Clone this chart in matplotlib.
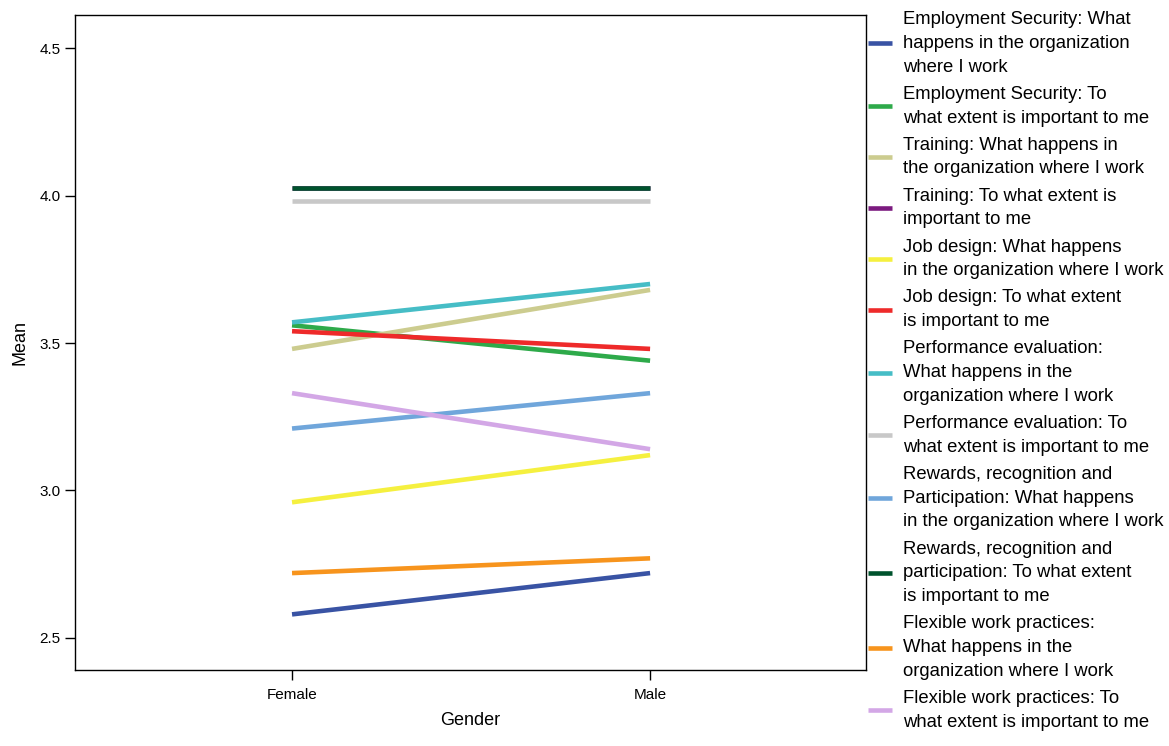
import matplotlib
matplotlib.use('Agg')
import matplotlib.pyplot as plt

plt.rcParams['font.family'] = ['Liberation Sans', 'DejaVu Sans']

# data
genders = ['Female', 'Male']
labels = [
    'Employment Security: What\nhappens in the organization\nwhere I work',
    'Employment Security: To\nwhat extent is important to me',
    'Training: What happens in\nthe organization where I work',
    'Training: To what extent is\nimportant to me',
    'Job design: What happens\nin the organization where I work',
    'Job design: To what extent\nis important to me',
    'Performance evaluation:\nWhat happens in the\norganization where I work',
    'Performance evaluation: To\nwhat extent is important to me',
    'Rewards, recognition and\nParticipation: What happens\nin the organization where I work',
    'Rewards, recognition and\nparticipation: To what extent\nis important to me',
    'Flexible work practices:\nWhat happens in the\norganization where I work',
    'Flexible work practices: To\nwhat extent is important to me',
]
female = [2.58, 3.56, 3.48, 4.025, 2.96, 3.54, 3.57, 3.98, 3.21, 4.025, 2.72, 3.33]
male = [2.72, 3.44, 3.68, 4.025, 3.12, 3.48, 3.70, 3.98, 3.33, 4.025, 2.77, 3.14]
colors = ['#3953a4', '#2eaa4a', '#cccc8f', '#7b1a7f', '#f5f03f', '#ee2a2a',
          '#46bdc6', '#c8c8c8', '#70a6db', '#00532d', '#f7941d', '#d3a7e6']

fig = plt.figure(figsize=(11.69, 7.46), dpi=100)
ax = fig.add_axes([0.0642, 0.1019, 0.6766, 0.878])

x = list(range(len(genders)))
for lab, f, m, c in zip(labels, female, male, colors):
    ax.plot(x, [f, m], color=c, linewidth=3.3, label=lab, solid_capstyle='butt')

ax.set_xlim(-0.606, 1.603)
ax.set_ylim(2.3915, 4.612)
ax.set_xticks(x)
ax.set_xticklabels(genders, fontsize=11)
ax.set_yticks([2.5, 3.0, 3.5, 4.0, 4.5])
ax.set_yticklabels(['2.5', '3.0', '3.5', '4.0', '4.5'], fontsize=11)
ax.tick_params(direction='out', length=7, width=1)
ax.tick_params(axis='x', pad=6)
ax.set_xlabel('Gender', fontsize=13, labelpad=7)
ax.set_ylabel('Mean', fontsize=13, labelpad=8)
for s in ax.spines.values():
    s.set_linewidth(1)

leg = ax.legend(loc='upper left', bbox_to_anchor=(1.003, 1.006), frameon=False,
                fontsize=13.3, handlelength=1.3, handletextpad=0.55,
                labelspacing=0.55, borderaxespad=0, borderpad=0)
for t in leg.get_texts():
    t.set_linespacing(1.52)

fig.savefig('out.png', dpi=100)
